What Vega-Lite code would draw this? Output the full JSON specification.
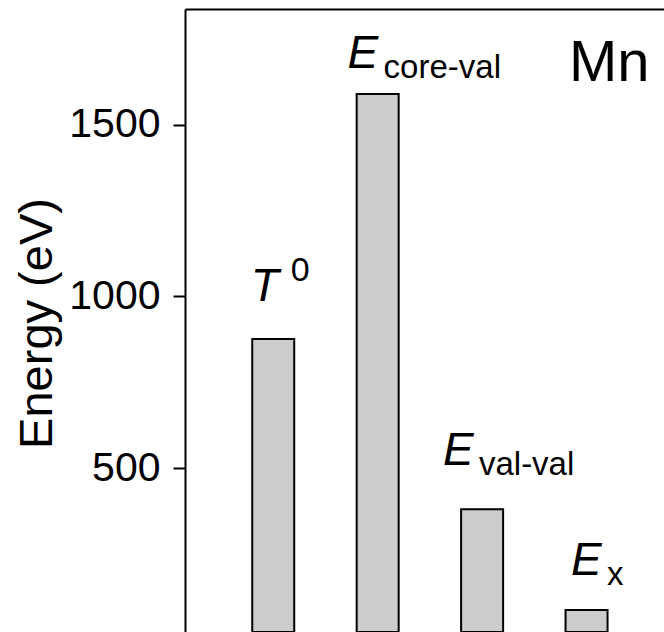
{
  "$schema": "https://vega.github.io/schema/vega-lite/v6.json",
  "width": 479,
  "height": 623,
  "autosize": {"type": "none"},
  "padding": {"left": 185, "top": 9, "right": 0, "bottom": 0},
  "background": "white",
  "config": {
    "view": {"stroke": null},
    "font": "Liberation Sans",
    "axis": {"grid": false}
  },
  "datasets": {
    "bars": [
      {"i": 1, "term": "T0", "energy": 876},
      {"i": 2, "term": "E core-val", "energy": 1590},
      {"i": 3, "term": "E val-val", "energy": 380},
      {"i": 4, "term": "E x", "energy": 86}
    ],
    "labels": [
      {"main": "T", "sub": "", "sup": "0", "lx": 0.784, "ly": 987},
      {"main": "E", "sub": "core-val", "sup": "", "lx": 1.712, "ly": 1666},
      {"main": "E", "sub": "val-val", "sup": "", "lx": 2.625, "ly": 509},
      {"main": "E", "sub": "x", "sup": "", "lx": 3.85, "ly": 188}
    ],
    "panel": [
      {"name": "Mn", "lx": 3.832, "ly": 1629}
    ]
  },
  "layer": [
    {
      "data": {"name": "bars"},
      "mark": {"type": "bar", "orient": "vertical", "width": 42, "fill": "#cccccc", "stroke": "black", "strokeWidth": 2},
      "encoding": {
        "x": {
          "field": "i", "type": "quantitative",
          "scale": {"domain": [0.2031, 4.6937], "nice": false, "zero": false},
          "axis": {"orient": "top", "labels": false, "ticks": false, "domain": true, "domainColor": "black", "domainWidth": 2, "title": null, "grid": false}
        },
        "y": {
          "field": "energy", "type": "quantitative", "stack": null,
          "scale": {"domain": [22, 1838], "nice": false, "zero": false},
          "title": "Energy (eV)",
          "axis": {
            "values": [500, 1000, 1500],
            "format": "d",
            "domainColor": "black", "domainWidth": 2,
            "tickColor": "black", "tickWidth": 2, "tickSize": 12,
            "labelFont": "Liberation Sans", "labelFontSize": 41, "labelColor": "black", "labelPadding": 13,
            "titleFont": "Liberation Sans", "titleFontSize": 47, "titleFontWeight": "normal", "titleColor": "black",
            "titleAngle": 270, "titleX": -148, "titleY": 314, "titleBaseline": "middle", "titleAlign": "center",
            "grid": false
          }
        }
      }
    },
    {
      "data": {"name": "labels"},
      "mark": {"type": "text", "font": "Liberation Sans", "fontStyle": "italic", "fontSize": 46, "align": "left", "baseline": "alphabetic", "color": "black"},
      "encoding": {
        "x": {"field": "lx", "type": "quantitative", "title": null},
        "y": {"field": "ly", "type": "quantitative", "title": "Energy (eV)"},
        "text": {"field": "main"}
      }
    },
    {
      "data": {"name": "labels"},
      "mark": {"type": "text", "font": "Liberation Sans", "fontSize": 33, "align": "left", "baseline": "alphabetic", "dx": 36, "dy": 10, "color": "black"},
      "encoding": {
        "x": {"field": "lx", "type": "quantitative", "title": null},
        "y": {"field": "ly", "type": "quantitative", "title": "Energy (eV)"},
        "text": {"field": "sub"}
      }
    },
    {
      "data": {"name": "labels"},
      "mark": {"type": "text", "font": "Liberation Sans", "fontSize": 34, "align": "left", "baseline": "alphabetic", "dx": 40, "dy": -20, "color": "black"},
      "encoding": {
        "x": {"field": "lx", "type": "quantitative", "title": null},
        "y": {"field": "ly", "type": "quantitative", "title": "Energy (eV)"},
        "text": {"field": "sup"}
      }
    },
    {
      "data": {"name": "panel"},
      "mark": {"type": "text", "font": "Liberation Sans", "fontSize": 58, "align": "left", "baseline": "alphabetic", "color": "black"},
      "encoding": {
        "x": {"field": "lx", "type": "quantitative", "title": null},
        "y": {"field": "ly", "type": "quantitative", "title": "Energy (eV)"},
        "text": {"field": "name"}
      }
    }
  ]
}
